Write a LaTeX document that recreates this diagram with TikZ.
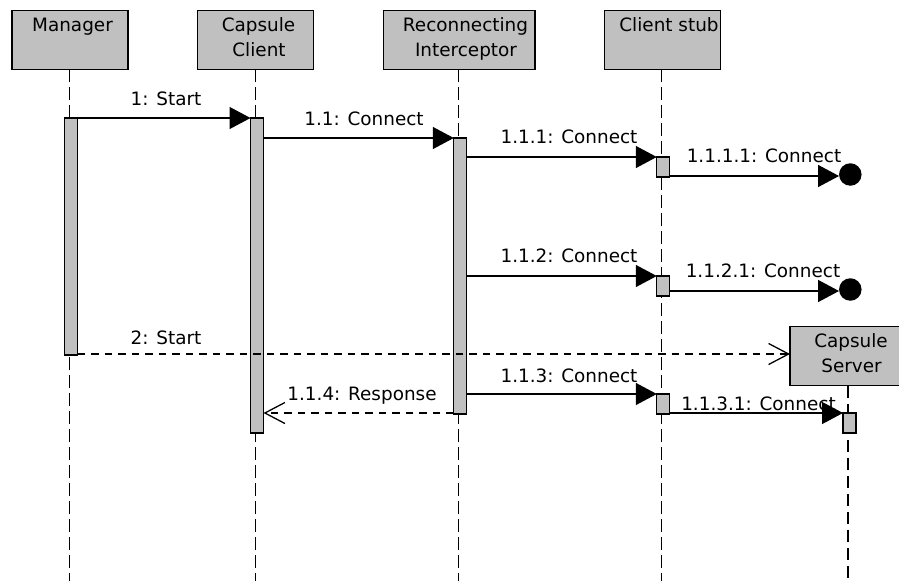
\documentclass[tikz,border=0pt]{standalone}
\usepackage{fontspec}
\setmainfont{DejaVu Sans}
\usetikzlibrary{arrows.meta}
\definecolor{boxgray}{RGB}{192,192,192}
\begin{document}
\begin{tikzpicture}[x=1pt, y=-1pt, line width=1.3pt,
  actor/.style={draw, fill=boxgray, minimum width=116pt, minimum height=59pt, inner sep=0pt, outer sep=0pt},
  act/.style={draw, fill=boxgray, minimum width=13pt, inner sep=0pt, outer sep=0pt},
  lifeline/.style={dash pattern=on 12.5pt off 5.5pt},
  txt/.style={anchor=base, inner sep=0pt, outer sep=0pt, font=\fontsize{18.4}{25}\selectfont},
  call/.style={-{Triangle[length=21pt, width=22pt]}},
  reply/.style={dash pattern=on 7.5pt off 6pt, -{Straight Barb[length=20pt, width=21pt]}},
  lost/.style={circle, fill=black, minimum size=22.5pt, inner sep=0pt, outer sep=0pt}
]
\clip (0,0) rectangle (899,581);
\fill[white] (0,0) rectangle (899,581);

% participant heads
\node[actor] (mgr) at (70,39.7) {};
\node[actor] (cli) at (255.7,39.7) {};
\node[actor, minimum width=151.7pt] (rci) at (459.2,39.7) {};
\node[actor] (stb) at (662.3,39.7) {};
\node[actor] (srv) at (848,356.3) {};

% lifelines
\coordinate (mgrEnd) at (69.3,581);
\coordinate (cliEnd) at (255.3,581);
\coordinate (rciEnd) at (458.7,581);
\coordinate (stbEnd) at (661.7,581);
\coordinate (srvEnd) at (848,581);
\draw[lifeline] (mgrEnd |- mgr.south) -- (mgrEnd);
\draw[lifeline] (cliEnd |- cli.south) -- (cliEnd);
\draw[lifeline] (rciEnd |- rci.south) -- (rciEnd);
\draw[lifeline] (stbEnd |- stb.south) -- (stbEnd);
\draw[lifeline] (srvEnd |- srv.south) -- (srvEnd);

% participant names
\node[txt] (tMgr) at (72.5,31) {Manager};
\node[txt] (tCli1) at (258.5,31) {Capsule};
\node[txt] (tCli2) at (259,56) {Client};
\node[txt] (tRci1) at (465.5,31) {Reconnecting};
\node[txt] (tRci2) at (466,56) {Interceptor};
\node[txt] (tStb) at (669,31) {Client stub};
\node[txt] (tSrv1) at (851,347) {Capsule};
\node[txt] (tSrv2) at (851.5,372) {Server};

% activation bars
\node[act, minimum height=237pt] (aMgr) at (71,236.5) {};
\node[act, minimum height=315pt] (aCli) at (257,275.5) {};
\node[act, minimum height=276pt] (aRci) at (460.3,276) {};
\node[act, minimum height=20pt] (aS1) at (663.3,167) {};
\node[act, minimum height=20pt] (aS2) at (663.3,286) {};
\node[act, minimum height=20pt] (aS3) at (663.3,404) {};
\node[act, minimum height=20pt] (aSrv) at (849.5,423) {};

% lost-message endpoints
\node[lost] (lost1) at (850.3,174.5) {};
\node[lost] (lost2) at (850.3,289.5) {};

% message labels
\node[txt] (m1) at (166,105) {1: Start};
\node[txt] (m11) at (364,125) {1.1: Connect};
\node[txt] (m111) at (569,143) {1.1.1: Connect};
\node[txt] (m1111) at (764,162) {1.1.1.1: Connect};
\node[txt] (m112) at (569,262) {1.1.2: Connect};
\node[txt] (m1121) at (763,277) {1.1.2.1: Connect};
\node[txt] (m2) at (166,344) {2: Start};
\node[txt] (m113) at (569,382) {1.1.3: Connect};
\node[txt] (m114) at (362,400) {1.1.4: Response};
\node[txt] (m1131) at (758.5,410) {1.1.3.1: Connect};

% messages
\coordinate (y1111) at (0,176);
\coordinate (y112) at (0,276);
\coordinate (y1121) at (0,291);
\coordinate (y2) at (0,354);
\coordinate (y114) at (0,413);
\draw[call] (aMgr.north east) -- (aCli.north west);
\draw[call] (aRci.north west -| aCli.east) -- (aRci.north west);
\draw[call] (aS1.north west -| aRci.east) -- (aS1.north west);
\draw[call] (y1111 -| aS1.east) -- (y1111 -| lost1.west);
\draw[call] (y112 -| aRci.east) -- (y112 -| aS2.west);
\draw[call] (y1121 -| aS2.east) -- (y1121 -| lost2.west);
\draw[reply] (y2 -| aMgr.east) -- (y2 -| srv.west);
\draw[call] (aS3.north west -| aRci.east) -- (aS3.north west);
\draw[reply] (y114 -| aRci.west) -- (y114 -| aCli.east);
\draw[call] (aSrv.north west -| aS3.east) -- (aSrv.north west);
\end{tikzpicture}
\end{document}
